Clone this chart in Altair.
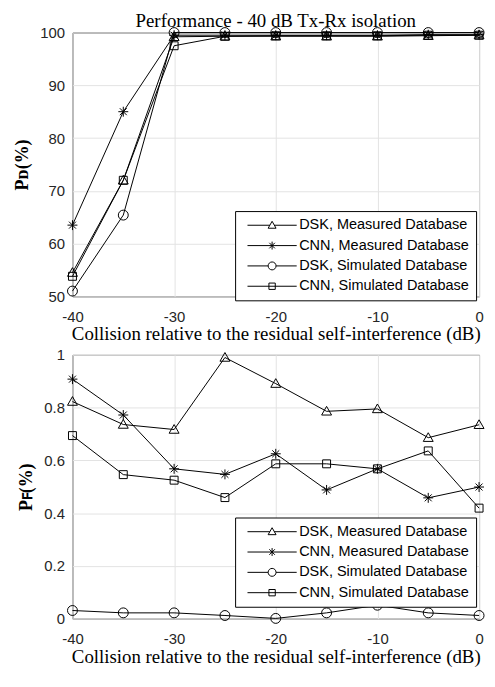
import altair as alt
import pandas as pd

x_vals = [-40, -35, -30, -25, -20, -15, -10, -5, 0]
series_names = [
    "DSK, Measured Database",
    "CNN, Measured Database",
    "DSK, Simulated Database",
    "CNN, Simulated Database",
]

# Top panel: detection probability (%)
pd_dsk_meas = [54.5, 72.0, 99.2, 99.3, 99.3, 99.3, 99.3, 99.4, 99.5]
pd_cnn_meas = [63.5, 85.0, 99.5, 99.5, 99.5, 99.5, 99.5, 99.6, 99.6]
pd_dsk_sim = [51.0, 65.4, 100.0, 100.0, 100.0, 100.0, 100.0, 100.0, 100.0]
pd_cnn_sim = [53.8, 72.0, 97.5, 99.3, 99.4, 99.4, 99.4, 99.5, 99.5]

# Bottom panel: false alarm probability (%)
pf_dsk_meas = [0.823, 0.736, 0.717, 0.990, 0.891, 0.786, 0.795, 0.686, 0.735]
pf_cnn_meas = [0.908, 0.772, 0.568, 0.547, 0.625, 0.488, 0.568, 0.458, 0.499]
pf_dsk_sim = [0.031, 0.022, 0.022, 0.012, 0.001, 0.022, 0.051, 0.022, 0.012]
pf_cnn_sim = [0.694, 0.546, 0.525, 0.459, 0.587, 0.587, 0.568, 0.636, 0.419]


def to_long(vals_list):
    rows = []
    for name, vals in zip(series_names, vals_list):
        for xv, yv in zip(x_vals, vals):
            rows.append({"x": xv, "y": yv, "series": name})
    return pd.DataFrame(rows)


df_top = to_long([pd_dsk_meas, pd_cnn_meas, pd_dsk_sim, pd_cnn_sim])
df_bot = to_long([pf_dsk_meas, pf_cnn_meas, pf_dsk_sim, pf_cnn_sim])

TRI = "M0,-1L1,0.75L-1,0.75Z"
AST = "M0,-1V1M-1,0H1M-0.7,-0.7L0.7,0.7M-0.7,0.7L0.7,-0.7"
CIR = "circle"
SQR = "M-0.8,-0.8H0.8V0.8H-0.8Z"

LEG_TRI = "M-6.2,0H-0.55M0.55,0H6.2M0,-1L1,0.75L-1,0.75Z"
LEG_AST = "M-6.2,0H6.2M0,-1V1M-0.7,-0.7L0.7,0.7M-0.7,0.7L0.7,-0.7"
LEG_CIR = "M-6.2,0H-1M1,0H6.2M1,0A1,1,0,1,1,-1,0A1,1,0,1,1,1,0Z"
LEG_SQR = "M-6.2,0H6.2M-0.8,-0.8H0.8V0.8H-0.8Z"

SANS = "Liberation Sans"
SERIF = "Liberation Serif"
TICK_COLOR = "#262626"
W, H = 410, 266


def panel(df, y_domain, y_values, y_title, y_format, leg_x, leg_y, title=None):
    x_enc = alt.X(
        "x:Q",
        scale=alt.Scale(domain=[-40, 0], nice=False, zero=False),
        axis=alt.Axis(
            values=[-40, -30, -20, -10, 0],
            labelExpr="'' + datum.value",
            labelFlush=False,
            title="Collision relative to the residual self-interference (dB)",
        ),
    )
    y_enc = alt.Y(
        "y:Q",
        scale=alt.Scale(domain=y_domain, nice=False, zero=False),
        axis=alt.Axis(values=y_values, format=y_format, title=y_title, labelFlush=False),
    )
    lines = alt.Chart(df).mark_line(color="black", strokeWidth=1).encode(
        x=x_enc, y=y_enc, detail="series:N"
    )
    points = alt.Chart(df).mark_point(
        filled=False, color="black", strokeWidth=1, size=100, opacity=1
    ).encode(
        x=x_enc,
        y=y_enc,
        shape=alt.Shape(
            "series:N",
            scale=alt.Scale(domain=series_names, range=[TRI, AST, CIR, SQR]),
            legend=None,
        ),
    )
    legend_layer = alt.Chart(df).transform_filter("false").mark_point(
        filled=False, color="black", strokeWidth=1, size=64, opacity=1
    ).encode(
        x=x_enc,
        y=y_enc,
        shape=alt.Shape(
            "series:N",
            scale=alt.Scale(
                domain=series_names, range=[LEG_TRI, LEG_AST, LEG_CIR, LEG_SQR]
            ),
            legend=alt.Legend(
                title=None,
                orient="none",
                legendX=leg_x,
                legendY=leg_y,
                direction="vertical",
                fillColor="white",
                strokeColor="black",
                padding=7,
                cornerRadius=0,
                labelFont=SANS,
                labelFontSize=14.6,
                labelColor="black",
                labelLimit=400,
                symbolSize=64,
                symbolStrokeWidth=1,
                symbolStrokeColor="black",
                symbolOffset=23,
                labelOffset=20,
                rowPadding=5.5,
            ),
        ),
    )
    ch = alt.layer(lines, points, legend_layer).resolve_scale(shape="independent")
    props = dict(width=W, height=H)
    if title is not None:
        props["title"] = title
    return ch.properties(**props)


title = alt.TitleParams(
    "Performance - 40 dB Tx-Rx isolation",
    font=SERIF,
    fontSize=19,
    fontWeight="normal",
    color="black",
    anchor="middle",
    offset=-5,
)

top = panel(df_top, [50, 100], [50, 60, 70, 80, 90, 100], "Pᴅ(%)", "d", 164, 180, title)
bot = panel(df_bot, [0, 1], [0, 0.2, 0.4, 0.6, 0.8, 1], "Pꜰ(%)", "~g", 164, 164)

chart = (
    alt.vconcat(top, bot, spacing=2)
    .properties(padding={"left": 5, "top": 0, "right": 0, "bottom": 0})
    .configure_view(stroke=TICK_COLOR, strokeWidth=1)
    .configure_axis(
        grid=True,
        gridColor="#e3e3e3",
        gridWidth=1,
        domain=False,
        ticks=False,
        labelFont=SANS,
        labelFontSize=15,
        labelColor=TICK_COLOR,
        titleFont=SERIF,
        titleFontSize=19,
        titleFontWeight="normal",
        titleColor="black",
    )
    .configure_axisX(labelPadding=13, titlePadding=1)
    .configure_axisY(labelPadding=8, titlePadding=8, titleFontWeight="bold", titleFontSize=18)
)

chart.save("out.html", embed_options={"renderer": "svg", "actions": False})
